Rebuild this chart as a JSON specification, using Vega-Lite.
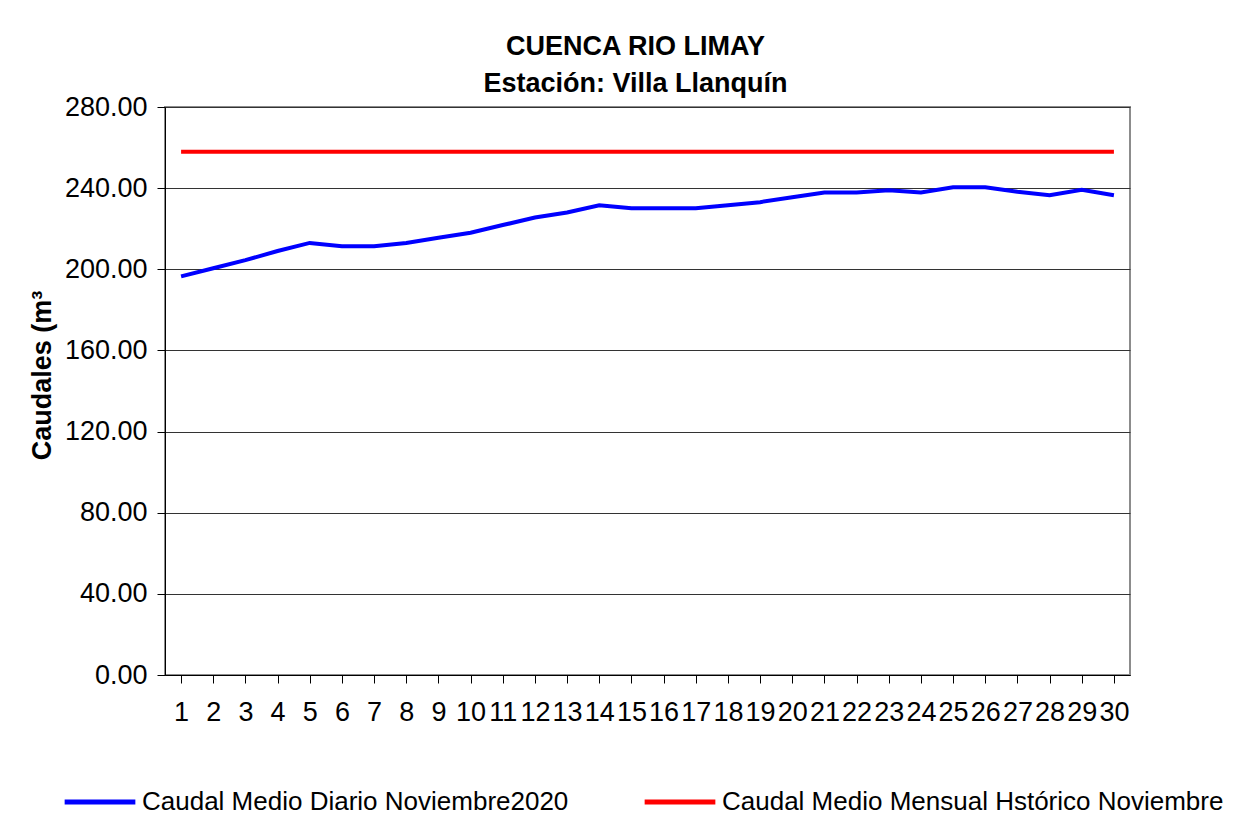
{
  "$schema": "https://vega.github.io/schema/vega-lite/v6.json",
  "width": 965,
  "height": 568,
  "autosize": {"type": "none"},
  "padding": {"left": 165, "top": 107, "right": 121, "bottom": 155},
  "background": "white",
  "config": {
    "font": "Liberation Sans",
    "view": {"stroke": "#8c8c8c", "strokeWidth": 2}
  },
  "title": {
    "text": ["CUENCA RIO LIMAY", "Estación: Villa Llanquín"],
    "fontSize": 27,
    "fontWeight": "bold",
    "color": "black",
    "anchor": "middle",
    "lineHeight": 37,
    "offset": -5,
    "dx": -12
  },
  "datasets": {
    "d": [
      {"dia": 1, "serie": "Caudal Medio Diario Noviembre2020", "caudal": 196.5},
      {"dia": 2, "serie": "Caudal Medio Diario Noviembre2020", "caudal": 200.5},
      {"dia": 3, "serie": "Caudal Medio Diario Noviembre2020", "caudal": 204.5},
      {"dia": 4, "serie": "Caudal Medio Diario Noviembre2020", "caudal": 209.0},
      {"dia": 5, "serie": "Caudal Medio Diario Noviembre2020", "caudal": 213.0},
      {"dia": 6, "serie": "Caudal Medio Diario Noviembre2020", "caudal": 211.4},
      {"dia": 7, "serie": "Caudal Medio Diario Noviembre2020", "caudal": 211.4},
      {"dia": 8, "serie": "Caudal Medio Diario Noviembre2020", "caudal": 213.0},
      {"dia": 9, "serie": "Caudal Medio Diario Noviembre2020", "caudal": 215.5},
      {"dia": 10, "serie": "Caudal Medio Diario Noviembre2020", "caudal": 218.0},
      {"dia": 11, "serie": "Caudal Medio Diario Noviembre2020", "caudal": 221.8},
      {"dia": 12, "serie": "Caudal Medio Diario Noviembre2020", "caudal": 225.5},
      {"dia": 13, "serie": "Caudal Medio Diario Noviembre2020", "caudal": 228.0},
      {"dia": 14, "serie": "Caudal Medio Diario Noviembre2020", "caudal": 231.6},
      {"dia": 15, "serie": "Caudal Medio Diario Noviembre2020", "caudal": 230.1},
      {"dia": 16, "serie": "Caudal Medio Diario Noviembre2020", "caudal": 230.1},
      {"dia": 17, "serie": "Caudal Medio Diario Noviembre2020", "caudal": 230.1},
      {"dia": 18, "serie": "Caudal Medio Diario Noviembre2020", "caudal": 231.6},
      {"dia": 19, "serie": "Caudal Medio Diario Noviembre2020", "caudal": 233.1},
      {"dia": 20, "serie": "Caudal Medio Diario Noviembre2020", "caudal": 235.5},
      {"dia": 21, "serie": "Caudal Medio Diario Noviembre2020", "caudal": 237.9},
      {"dia": 22, "serie": "Caudal Medio Diario Noviembre2020", "caudal": 237.9},
      {"dia": 23, "serie": "Caudal Medio Diario Noviembre2020", "caudal": 239.0},
      {"dia": 24, "serie": "Caudal Medio Diario Noviembre2020", "caudal": 237.9},
      {"dia": 25, "serie": "Caudal Medio Diario Noviembre2020", "caudal": 240.4},
      {"dia": 26, "serie": "Caudal Medio Diario Noviembre2020", "caudal": 240.4},
      {"dia": 27, "serie": "Caudal Medio Diario Noviembre2020", "caudal": 238.2},
      {"dia": 28, "serie": "Caudal Medio Diario Noviembre2020", "caudal": 236.5},
      {"dia": 29, "serie": "Caudal Medio Diario Noviembre2020", "caudal": 239.2},
      {"dia": 30, "serie": "Caudal Medio Diario Noviembre2020", "caudal": 236.5},
      {"dia": 1, "serie": "Caudal Medio Mensual Hstórico Noviembre", "caudal": 258.0},
      {"dia": 2, "serie": "Caudal Medio Mensual Hstórico Noviembre", "caudal": 258.0},
      {"dia": 3, "serie": "Caudal Medio Mensual Hstórico Noviembre", "caudal": 258.0},
      {"dia": 4, "serie": "Caudal Medio Mensual Hstórico Noviembre", "caudal": 258.0},
      {"dia": 5, "serie": "Caudal Medio Mensual Hstórico Noviembre", "caudal": 258.0},
      {"dia": 6, "serie": "Caudal Medio Mensual Hstórico Noviembre", "caudal": 258.0},
      {"dia": 7, "serie": "Caudal Medio Mensual Hstórico Noviembre", "caudal": 258.0},
      {"dia": 8, "serie": "Caudal Medio Mensual Hstórico Noviembre", "caudal": 258.0},
      {"dia": 9, "serie": "Caudal Medio Mensual Hstórico Noviembre", "caudal": 258.0},
      {"dia": 10, "serie": "Caudal Medio Mensual Hstórico Noviembre", "caudal": 258.0},
      {"dia": 11, "serie": "Caudal Medio Mensual Hstórico Noviembre", "caudal": 258.0},
      {"dia": 12, "serie": "Caudal Medio Mensual Hstórico Noviembre", "caudal": 258.0},
      {"dia": 13, "serie": "Caudal Medio Mensual Hstórico Noviembre", "caudal": 258.0},
      {"dia": 14, "serie": "Caudal Medio Mensual Hstórico Noviembre", "caudal": 258.0},
      {"dia": 15, "serie": "Caudal Medio Mensual Hstórico Noviembre", "caudal": 258.0},
      {"dia": 16, "serie": "Caudal Medio Mensual Hstórico Noviembre", "caudal": 258.0},
      {"dia": 17, "serie": "Caudal Medio Mensual Hstórico Noviembre", "caudal": 258.0},
      {"dia": 18, "serie": "Caudal Medio Mensual Hstórico Noviembre", "caudal": 258.0},
      {"dia": 19, "serie": "Caudal Medio Mensual Hstórico Noviembre", "caudal": 258.0},
      {"dia": 20, "serie": "Caudal Medio Mensual Hstórico Noviembre", "caudal": 258.0},
      {"dia": 21, "serie": "Caudal Medio Mensual Hstórico Noviembre", "caudal": 258.0},
      {"dia": 22, "serie": "Caudal Medio Mensual Hstórico Noviembre", "caudal": 258.0},
      {"dia": 23, "serie": "Caudal Medio Mensual Hstórico Noviembre", "caudal": 258.0},
      {"dia": 24, "serie": "Caudal Medio Mensual Hstórico Noviembre", "caudal": 258.0},
      {"dia": 25, "serie": "Caudal Medio Mensual Hstórico Noviembre", "caudal": 258.0},
      {"dia": 26, "serie": "Caudal Medio Mensual Hstórico Noviembre", "caudal": 258.0},
      {"dia": 27, "serie": "Caudal Medio Mensual Hstórico Noviembre", "caudal": 258.0},
      {"dia": 28, "serie": "Caudal Medio Mensual Hstórico Noviembre", "caudal": 258.0},
      {"dia": 29, "serie": "Caudal Medio Mensual Hstórico Noviembre", "caudal": 258.0},
      {"dia": 30, "serie": "Caudal Medio Mensual Hstórico Noviembre", "caudal": 258.0}
    ]
  },
  "data": {"name": "d"},
  "mark": {"type": "line", "strokeWidth": 4},
  "encoding": {
    "x": {
      "field": "dia",
      "type": "ordinal",
      "sort": "ascending",
      "scale": {"paddingInner": 0, "paddingOuter": 0},
      "axis": {
        "title": null,
        "labelAngle": 0,
        "labelFontSize": 27,
        "labelColor": "black",
        "labelPadding": 16,
        "labelBaseline": "top",
        "labelOverlap": false,
        "bandPosition": 0,
        "tickSize": 8,
        "tickColor": "black",
        "domainColor": "black",
        "domainWidth": 1,
        "grid": false
      }
    },
    "y": {
      "field": "caudal",
      "type": "quantitative",
      "scale": {"domain": [0, 280], "nice": false},
      "axis": {
        "title": "Caudales (m³",
        "titleFontSize": 27,
        "titleFontWeight": "bold",
        "titleColor": "black",
        "titleX": -123,
        "titleY": 268,
        "titleAngle": -90,
        "titleAlign": "center",
        "titleBaseline": "middle",
        "values": [0, 40, 80, 120, 160, 200, 240, 280],
        "format": ".2f",
        "labelFontSize": 27,
        "labelColor": "black",
        "labelPadding": 10,
        "tickSize": 8,
        "tickColor": "black",
        "domainColor": "black",
        "domainWidth": 1,
        "gridColor": "#333333",
        "gridWidth": 1
      }
    },
    "color": {
      "field": "serie",
      "type": "nominal",
      "scale": {
        "domain": ["Caudal Medio Diario Noviembre2020", "Caudal Medio Mensual Hstórico Noviembre"],
        "range": ["#0000ff", "#ff0000"]
      },
      "legend": {
        "title": null,
        "orient": "none",
        "legendX": -103,
        "legendY": 657,
        "direction": "horizontal",
        "columns": 2,
        "symbolType": "stroke",
        "symbolSize": 5000,
        "symbolStrokeWidth": 5,
        "labelFontSize": 26,
        "labelColor": "black",
        "labelLimit": 0,
        "labelOffset": 4,
        "columnPadding": 65
      }
    }
  }
}
